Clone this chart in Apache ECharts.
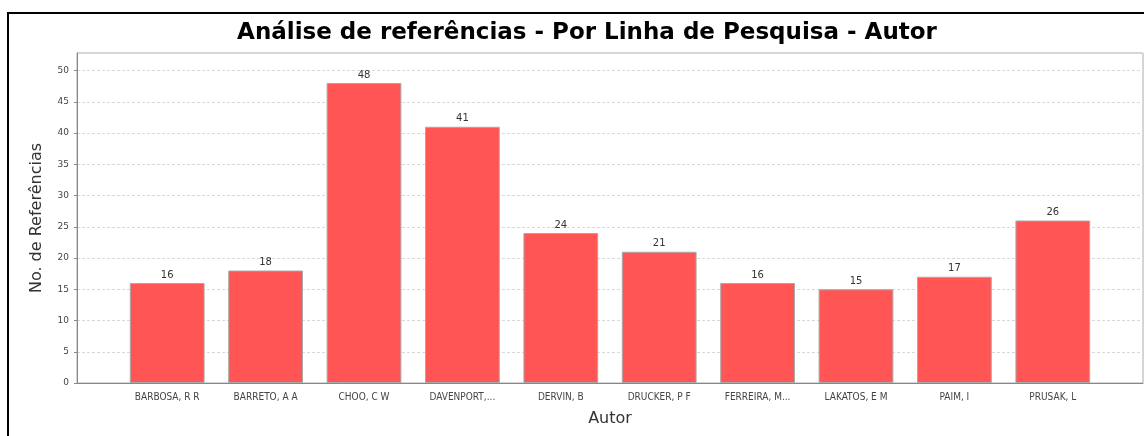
<!DOCTYPE html>
<html>
<head>
<meta charset="utf-8">
<script src="https://cdn.jsdelivr.net/npm/echarts@6/dist/echarts.min.js"></script>
<style>
  html, body { margin: 0; padding: 0; background: #fff; }
  #chart { width: 1144px; height: 436px; }
</style>
</head>
<body>
<div id="chart"></div>
<script>
var autores = ['BARBOSA, R R', 'BARRETO, A A', 'CHOO, C W', 'DAVENPORT,...', 'DERVIN, B',
  'DRUCKER, P F', 'FERREIRA, M...', 'LAKATOS, E M', 'PAIM, I', 'PRUSAK, L'];
var referencias = [16, 18, 48, 41, 24, 21, 16, 15, 17, 26];
var yMax = 52.8;

var chart = echarts.init(document.getElementById('chart'));
var option = {
  animation: false,
  title: {
    text: 'Análise de referências - Por Linha de Pesquisa - Autor',
    left: 582,
    textAlign: 'center',
    top: 17,
    textStyle: {
      fontFamily: 'DejaVu Sans',
      fontWeight: 'bold',
      fontSize: 23,
      color: '#000'
    }
  },
  graphic: [
    {
      type: 'rect',
      shape: { x: 8, y: 13, width: 1300, height: 600 },
      style: { fill: 'none', stroke: '#000', lineWidth: 2 },
      z: 100
    }
  ],
  grid: [
    // plot area with y axis
    { left: 77, right: 1, top: 53, bottom: 53, show: true, borderColor: '#aaa', borderWidth: 1 },
    // bars, inset by the category margins
    { left: 118, width: 984, top: 53, bottom: 53 }
  ],
  xAxis: [
    {
      gridIndex: 0,
      type: 'value',
      min: 0,
      max: 1,
      axisLine: { show: true, lineStyle: { color: '#888' } },
      axisTick: { show: false },
      axisLabel: { show: false },
      splitLine: { show: false },
      name: 'Autor',
      nameLocation: 'middle',
      nameGap: 28,
      nameTextStyle: { fontFamily: 'DejaVu Sans', fontSize: 16, color: '#333' }
    },
    {
      gridIndex: 1,
      type: 'category',
      data: autores,
      axisLine: { show: false },
      axisTick: { show: false },
      axisLabel: {
        interval: 0,
        margin: 9,
        fontFamily: 'DejaVu Sans Condensed',
        fontSize: 10,
        color: '#444'
      }
    }
  ],
  yAxis: [
    {
      gridIndex: 0,
      type: 'value',
      min: 0,
      max: yMax,
      interval: 5,
      axisLine: { show: true, lineStyle: { color: '#888' } },
      axisTick: { show: true, length: 3, lineStyle: { color: '#888' } },
      axisLabel: {
        showMaxLabel: false,
        margin: 8,
        fontFamily: 'DejaVu Sans',
        fontSize: 9,
        color: '#444'
      },
      splitLine: { show: true, lineStyle: { color: '#d8d8d8', type: [3, 2] } },
      name: 'No. de Referências',
      nameLocation: 'middle',
      nameGap: 32,
      nameTextStyle: { fontFamily: 'DejaVu Sans', fontSize: 16, color: '#333' }
    },
    {
      gridIndex: 1,
      type: 'value',
      min: 0,
      max: yMax,
      show: false
    }
  ],
  series: [
    {
      type: 'bar',
      xAxisIndex: 1,
      yAxisIndex: 1,
      data: referencias,
      barCategoryGap: '24%',
      itemStyle: { color: '#ff5555', borderColor: '#aaaaaa', borderWidth: 1 },
      label: {
        show: true,
        position: 'top',
        distance: 3,
        fontFamily: 'DejaVu Sans',
        fontSize: 10,
        color: '#333'
      }
    }
  ]
};
chart.setOption(option);
</script>
</body>
</html>
